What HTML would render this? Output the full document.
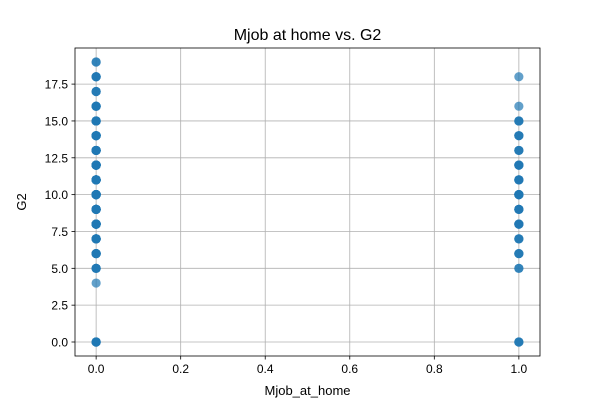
<!DOCTYPE html>
<html><head><meta charset="utf-8"><style>
body{margin:0;background:#fff}
svg{display:block;font-family:"Liberation Sans","DejaVu Sans",sans-serif}
</style></head><body>
<svg id="chart" width="600" height="400">
<rect width="600" height="400" fill="#fff"/>
<text x="307.5" y="40" text-anchor="middle" font-size="16">Mjob at home vs. G2</text>
<g id="grid"></g>
<g id="marks"></g>
<g id="axes"></g>
<text x="307.5" y="395" text-anchor="middle" font-size="13">Mjob_at_home</text>
<text x="0" y="0" transform="translate(26,202) rotate(-90)" text-anchor="middle" font-size="13">G2</text>
</svg>
<script>
const xsHome0 = [0,0,0,0,0,0,0,0,0,0,0,0,0,0,0,0,0];
const ysHome0 = [0,4,5,6,7,8,9,10,11,12,13,14,15,16,17,18,19];
const nHome0  = [5,1,4,6,8,10,12,14,12,10,10,8,6,5,3,4,2];
const xsHome1 = [1,1,1,1,1,1,1,1,1,1,1,1,1,1];
const ysHome1 = [0,5,6,7,8,9,10,11,12,13,14,15,16,18];
const nHome1  = [3,2,3,3,4,4,6,4,4,3,3,3,1,1];
const xTicks = [0.0,0.2,0.4,0.6,0.8,1.0];
const yTicks = [0.0,2.5,5.0,7.5,10.0,12.5,15.0,17.5];
const L=75,R=540,T=48,B=356;
const xmin=-0.05,xmax=1.05,ymin=-0.95,ymax=19.95;
const sx=v=>L+(v-xmin)/(xmax-xmin)*(R-L);
const sy=v=>B-(v-ymin)/(ymax-ymin)*(B-T);
const NS="http://www.w3.org/2000/svg";
function mk(t,a,p){const e=document.createElementNS(NS,t);for(const k in a)e.setAttribute(k,a[k]);p.appendChild(e);return e;}
const grid=document.getElementById('grid'),marks=document.getElementById('marks'),axes=document.getElementById('axes');
xTicks.forEach(v=>{
 const g=mk('line',{x1:sx(v),x2:sx(v),y1:T,y2:B,stroke:'#b0b0b0','stroke-width':0.8},grid);
 
 
 mk('line',{x1:sx(v),x2:sx(v),y1:B,y2:B+3.5,stroke:'#000','stroke-width':0.8},axes);
 const t=mk('text',{x:sx(v),y:B+17,'text-anchor':'middle','font-size':12},axes);
 t.textContent=v.toFixed(1);
 
 
});
yTicks.forEach(v=>{
 const g=mk('line',{x1:L,x2:R,y1:sy(v),y2:sy(v),stroke:'#b0b0b0','stroke-width':0.8},grid);
 
 
 mk('line',{x1:L-3.5,x2:L,y1:sy(v),y2:sy(v),stroke:'#000','stroke-width':0.8},axes);
 const t=mk('text',{x:L-7,y:sy(v)+4.5,'text-anchor':'end','font-size':12},axes);
 t.textContent=v.toFixed(1);
 
 
});
function plot(xs,ys,ns){xs.forEach((x,i)=>{
 for(let k=0;k<ns[i];k++){
  const c=mk('circle',{cx:sx(x),cy:sy(ys[i]),r:4.6,fill:'#1f77b4','fill-opacity':0.7},marks);
  
  
 }
});}
plot(xsHome0,ysHome0,nHome0);plot(xsHome1,ysHome1,nHome1);
const f=mk('rect',{x:L,y:T,width:R-L,height:B-T,fill:'none',stroke:'#000','stroke-width':0.8},axes);


</script>
</body></html>
